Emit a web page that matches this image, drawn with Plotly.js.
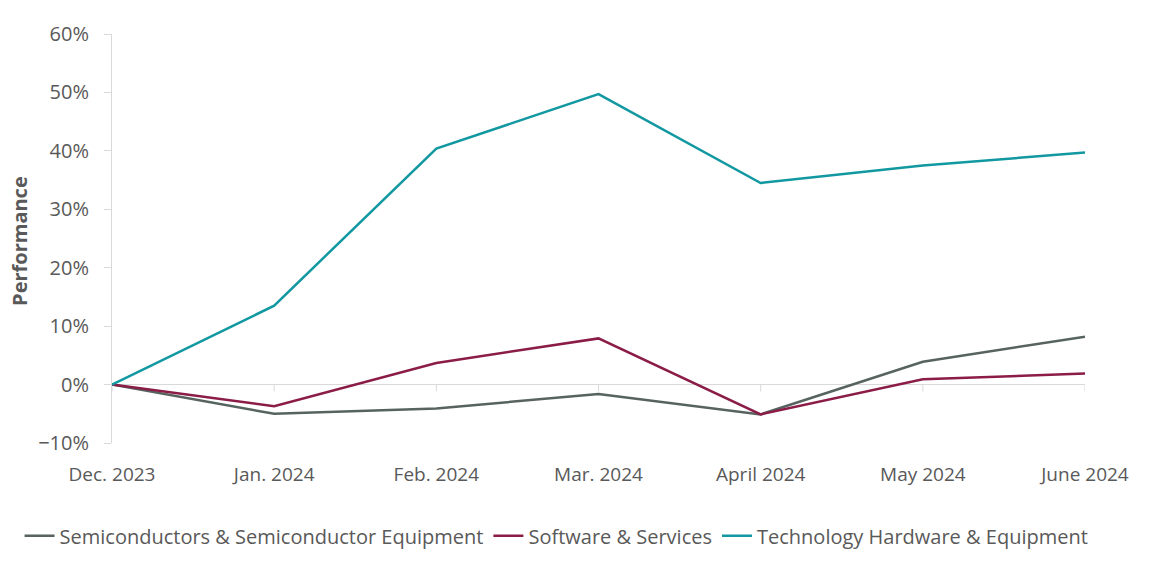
<!DOCTYPE html>
<html>
<head>
<meta charset="utf-8">
<script src="https://cdn.plot.ly/plotly-3.0.1.min.js"></script>
<style>html,body{margin:0;padding:0;background:#fff;}#chart{width:1152px;height:577px;}</style>
</head>
<body>
<div id="chart"></div>
<script>
const categories = ["Dec. 2023", "Jan. 2024", "Feb. 2024", "Mar. 2024", "April 2024", "May 2024", "June 2024"];
const semiconductors = [0, -0.050, -0.041, -0.016, -0.051, 0.039, 0.082];
const software = [0, -0.037, 0.037, 0.079, -0.051, 0.009, 0.019];
const techHardware = [0, 0.135, 0.404, 0.497, 0.345, 0.375, 0.397];
const seriesNames = ["Semiconductors & Semiconductor Equipment", "Software & Services", "Technology Hardware & Equipment"];
const seriesColors = ["#56635f", "#8a1c47", "#1198a1"];
const yTitle = "Performance";

const FONT = "'Open Sans', 'Noto Sans', sans-serif";
const TXT = "#595959";
const AX = "#d9d9d9";

const traces = [semiconductors, software, techHardware].map((vals, i) => ({
  type: "scatter", mode: "lines", name: seriesNames[i],
  x: categories, y: vals,
  line: {color: seriesColors[i], width: 2.5}
}));

const tickShapes = categories.map(c => ({
  type: "line", xref: "x", yref: "y", ysizemode: "pixel", yanchor: 0,
  x0: c, x1: c, y0: 0, y1: -7, line: {color: AX, width: 1}, layer: "below"
}));

const layout = {
  width: 1152, height: 577,
  margin: {l: 112, r: 67, t: 34, b: 134},
  paper_bgcolor: "#fff", plot_bgcolor: "#fff",
  font: {family: FONT, color: TXT, size: 19},
  showlegend: true,
  legend: {orientation: "h", x: -0.095, xanchor: "left", y: -0.227, yanchor: "middle",
           font: {size: 20, color: TXT}, itemwidth: 30, tracegroupgap: 0},
  xaxis: {type: "category", range: [0, categories.length - 1], showline: false, ticks: "",
          showgrid: false, zeroline: false, ticklabelstandoff: 18,
          tickfont: {size: 19, color: TXT}},
  yaxis: {range: [-0.1, 0.6], dtick: 0.1, tick0: 0, tickformat: ".0%",
          showline: true, linecolor: AX, linewidth: 1, ticks: "outside", ticklen: 7, tickcolor: AX,
          showgrid: false, zeroline: true, zerolinecolor: AX, zerolinewidth: 1.5,
          ticklabelstandoff: 11,
          tickfont: {size: 20, color: TXT}},
  annotations: [{text: "<b>" + yTitle + "</b>", textangle: -90, xref: "paper", yref: "paper",
                 x: -0.0946, y: 0.494, xanchor: "center", yanchor: "middle", showarrow: false,
                 font: {size: 20, color: TXT, family: FONT}}],
  shapes: tickShapes
};

Plotly.newPlot("chart", traces, layout, {displayModeBar: false, staticPlot: true});
</script>
</body>
</html>
